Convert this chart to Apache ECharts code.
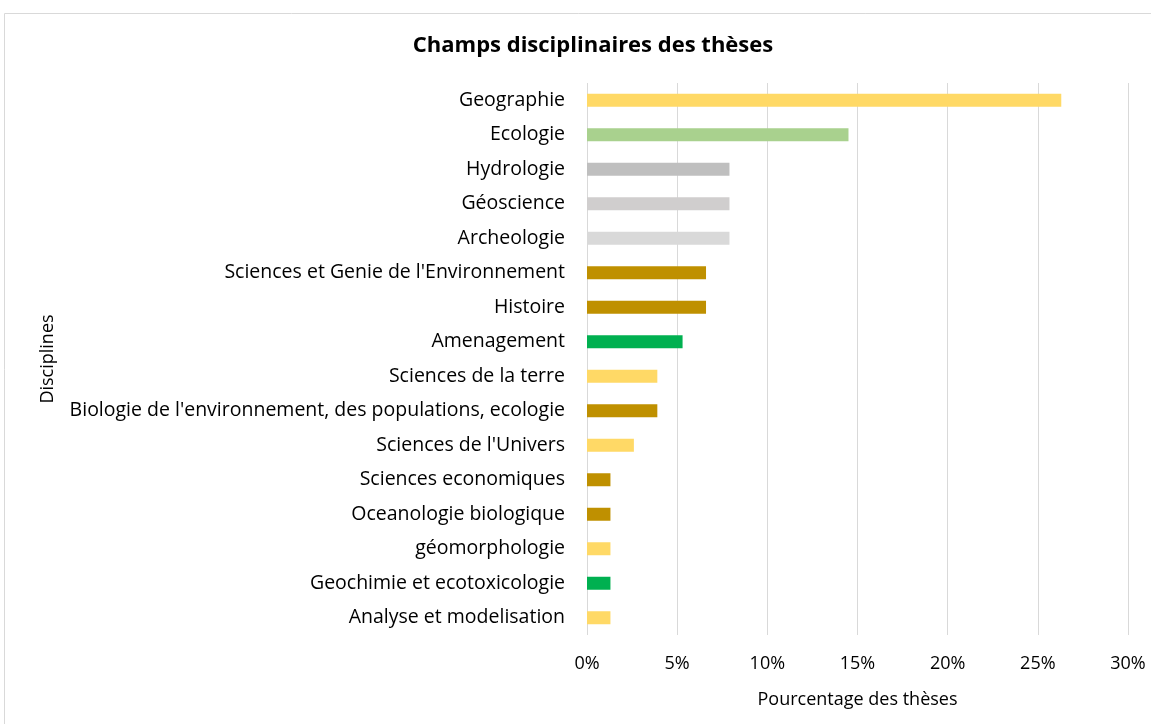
<!DOCTYPE html>
<html>
<head>
<meta charset="utf-8">
<script src="https://cdn.jsdelivr.net/npm/echarts@6/dist/echarts.min.js"></script>
<style>
  html, body { margin: 0; padding: 0; background: #fff; }
  #main { width: 1151px; height: 724px; }
</style>
</head>
<body>
<div id="main"></div>
<script>
// disciplines, from top to bottom as in the chart
var disciplines = ['Geographie', 'Ecologie', 'Hydrologie', 'Géoscience', 'Archeologie',
  "Sciences et Genie de l'Environnement", 'Histoire', 'Amenagement', 'Sciences de la terre',
  "Biologie de l'environnement, des populations, ecologie", "Sciences de l'Univers",
  'Sciences economiques', 'Oceanologie biologique', 'géomorphologie',
  'Geochimie et ecotoxicologie', 'Analyse et modelisation'];
// percentage of theses
var pourcentages = [26.3, 14.5, 7.9, 7.9, 7.9, 6.6, 6.6, 5.3, 3.9, 3.9, 2.6, 1.3, 1.3, 1.3, 1.3, 1.3];
var couleurs = ['#FFD966', '#A9D18E', '#BFBFBF', '#D0CECE', '#D9D9D9', '#BF9000', '#BF9000', '#00B050',
  '#FFD966', '#BF9000', '#FFD966', '#BF9000', '#BF9000', '#FFD966', '#00B050', '#FFD966'];
var ticksX = [0, 5, 10, 15, 20, 25, 30];

var font = 'Open Sans';
var myChart = echarts.init(document.getElementById('main'));
var option = {
  animation: false,
  title: {
    text: 'Champs disciplinaires des thèses',
    left: 588,
    textAlign: 'center',
    top: 30,
    textStyle: { fontFamily: font, fontSize: 22, fontWeight: 'bold', color: '#000' }
  },
  graphic: [{
    type: 'rect',
    shape: { x: 4.5, y: 13.5, width: 1160, height: 720 },
    style: { fill: 'none', stroke: '#d9d9d9', lineWidth: 1 },
    silent: true
  }],
  grid: { left: 587, right: 23, top: 83, bottom: 89 },
  xAxis: {
    type: 'value',
    min: 0,
    max: 30,
    interval: 5,
    name: 'Pourcentage des thèses',
    nameLocation: 'middle',
    nameGap: 56,
    nameTextStyle: { fontFamily: font, fontSize: 18, color: '#000' },
    axisLine: { show: false },
    axisTick: { show: false },
    axisLabel: {
      fontFamily: font, fontSize: 18, color: '#000', margin: 20,
      formatter: function (v) { return ticksX.indexOf(v) >= 0 ? v + '%' : ''; }
    },
    splitLine: { lineStyle: { color: '#d9d9d9', width: 1 } }
  },
  yAxis: {
    type: 'category',
    inverse: true,
    data: disciplines,
    name: 'Disciplines',
    nameLocation: 'middle',
    nameGap: 530,
    nameRotate: 90,
    nameTextStyle: { fontFamily: font, fontSize: 18, color: '#000' },
    axisLine: { show: false },
    axisTick: { show: false },
    axisLabel: { fontFamily: font, fontSize: 19.5, color: '#000', margin: 22 }
  },
  series: [{
    type: 'bar',
    barWidth: 13,
    data: pourcentages.map(function (v, i) {
      return { value: v, itemStyle: { color: couleurs[i] } };
    })
  }]
};
myChart.setOption(option);
</script>
</body>
</html>
